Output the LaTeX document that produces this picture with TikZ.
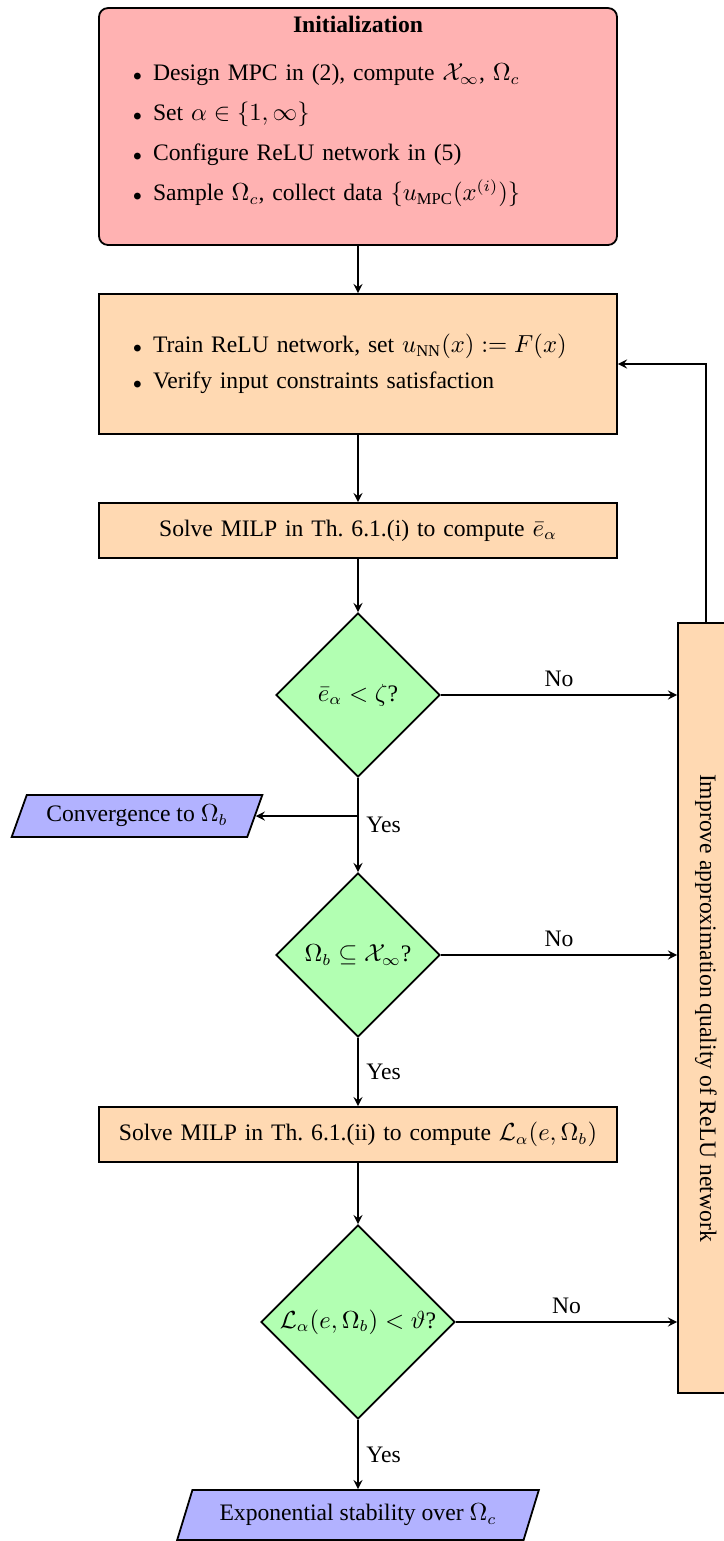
\documentclass[tikz,border=0pt]{standalone}
\usepackage{amsmath}
\usepackage{graphicx}
\usepackage[no-math]{fontspec}
\setmainfont{Liberation Serif}
\usetikzlibrary{shapes.geometric,arrows}
\newcommand{\bulletitem}{\hspace*{15pt}\makebox[9pt][l]{\scriptsize$\bullet$}}

\begin{document}
\begin{tikzpicture}[x=0.4444pt,y=-0.4444pt,font=\fontsize{10.5}{12.6}\selectfont,
initbox/.style={draw,thick,rounded corners,fill=red!30,text width=230.2pt,minimum height=105.3pt,inner xsep=0pt,align=left},
process/.style={draw,thick,fill=orange!30,text width=230.2pt,inner xsep=0pt,align=center},
decision/.style={draw,thick,diamond,aspect=1,fill=green!30,inner sep=0pt},
io/.style={draw,thick,trapezium,trapezium left angle=70,trapezium right angle=110,trapezium stretches=true,fill=blue!30},
line/.style={draw,thick,-stealth}]
\useasboundingbox (0,0) rectangle (724,1541);

\node[initbox] (init) at (358,126.5) {{\centering\textbf{Initialization}\par}\vspace{8.7pt}
\bulletitem Design MPC in (2), compute $\mathcal{X}_\infty$, $\Omega_c$\par\vspace{5.2pt}
\bulletitem Set $\alpha\in\{1,\infty\}$\par\vspace{5.2pt}
\bulletitem Configure ReLU network in (5)\par\vspace{5.2pt}
\bulletitem Sample $\Omega_c$, collect data $\{u_{\text{MPC}}(x^{(i)})\}$\rule[-16pt]{0pt}{0pt}};
\node[process,align=left,minimum height=62.2pt] (train) at (358,364) {\bulletitem Train ReLU network, set $u_{\text{NN}}(x):=F(x)$\par\vspace{3.6pt}
\bulletitem Verify input constraints satisfaction};
\node[process,minimum height=24.4pt] (milpone) at (358,530.5) {Solve MILP in Th.\ 6.1.(i) to compute $\bar{e}_\alpha$};
\node[decision,minimum size=72.9pt] (checkone) at (358,695) {$\bar{e}_\alpha<\zeta$?};
\node[io,minimum width=112.4pt,minimum height=18.7pt] (conv) at (137,816) {Convergence to $\Omega_b$};
\node[decision,minimum size=72.9pt] (checktwo) at (358,955) {$\Omega_b\subseteq\mathcal{X}_\infty$?};
\node[process,minimum height=24.4pt] (milptwo) at (358,1134.5) {Solve MILP in Th.\ 6.1.(ii) to compute $\mathcal{L}_\alpha(e,\Omega_b)$};
\node[decision,minimum size=86.2pt] (checkthree) at (358,1322) {$\mathcal{L}_\alpha(e,\Omega_b)<\vartheta$?};
\node[io,minimum width=160.9pt,minimum height=22.2pt] (stable) at (358,1515) {Exponential stability over $\Omega_c$};
\node[draw,thick,fill=orange!30,minimum width=24.9pt,minimum height=342.2pt,inner sep=0pt] (imp) at (706,1008) {\rotatebox{-90}{Improve approximation quality of ReLU network}};

\draw[line] (init) -- (train);
\draw[line] (train) -- (milpone);
\draw[line] (milpone) -- (checkone);
\draw[line] (checkone) -- node[right] {Yes} (checktwo);
\draw[line] (checkone.south |- conv.east) -- (conv.east);
\draw[line] (checkone.east) -- node[above] {No} (checkone.east -| imp.west);
\draw[line] (checktwo) -- node[right] {Yes} (milptwo);
\draw[line] (checktwo.east) -- node[above] {No} (checktwo.east -| imp.west);
\draw[line] (milptwo) -- (checkthree);
\draw[line] (checkthree) -- node[right] {Yes} (stable);
\draw[line] (checkthree.east) -- node[above] {No} (checkthree.east -| imp.west);
\draw[line] (imp.north) |- (train.east);
\end{tikzpicture}
\end{document}
